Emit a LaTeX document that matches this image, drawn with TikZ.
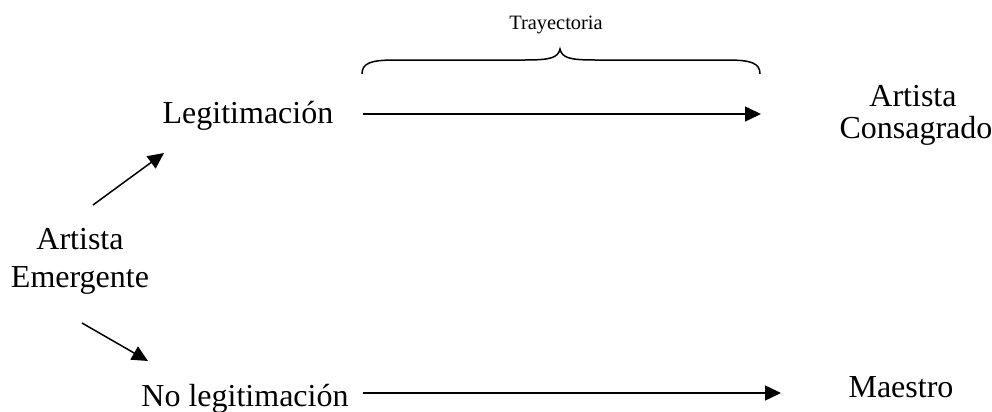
\documentclass[tikz,border=0pt]{standalone}
\usepackage{fontspec}
\setmainfont{Liberation Serif}
\usetikzlibrary{arrows.meta}
\begin{document}
\begin{tikzpicture}[x=0.5pt,y=-0.5pt,
  label text/.style={inner sep=0pt,anchor=base,font=\fontsize{16}{16}\selectfont},
  small text/.style={inner sep=0pt,anchor=base,font=\fontsize{10.2}{12}\selectfont},
  flow/.style={line width=0.75pt,-{Triangle[length=8pt,width=7.5pt]}},
  bracket/.style={line width=0.75pt}]
\useasboundingbox (0,0) rectangle (992,412);

% text labels
\node[label text] (emerg1) at (80,249) {Artista};
\node[label text] (emerg2) at (80,287) {Emergente};
\node[label text] (legit) at (248,123) {Legitimación};
\node[label text] (nolegit) at (245,406) {No legitimación};
\node[label text] (consag1) at (913,106) {Artista};
\node[label text] (consag2) at (916,138) {Consagrado};
\node[label text] (maestro) at (901,397) {Maestro};
\node[small text] (tray) at (556,30) {Trayectoria};

% arrow end points
\coordinate (up-s) at (93,205);
\coordinate (up-e) at (164,153);
\coordinate (dn-s) at (82,323);
\coordinate (dn-e) at (148,361);
\coordinate (top-s) at (363,114);
\coordinate (top-e) at (761,114);
\coordinate (bot-s) at (363,393);
\coordinate (bot-e) at (781,393);

\draw[flow] (up-s) -- (up-e);
\draw[flow] (dn-s) -- (dn-e);
\draw[flow] (top-s) -- (top-e);
\draw[flow] (bot-s) -- (bot-e);

% curly bracket over the upper path
\coordinate (br-l) at (362,74);
\coordinate (br-tip) at (560,49);
\coordinate (br-r) at (760,74);
\draw[bracket] (br-l) .. controls (362,63) and (371,60) .. (395,60)
  -- (525,60) .. controls (550,60) and (558,58) .. (br-tip)
  .. controls (562,58) and (570,60) .. (595,60)
  -- (727,60) .. controls (751,60) and (760,63) .. (br-r);
\end{tikzpicture}
\end{document}
